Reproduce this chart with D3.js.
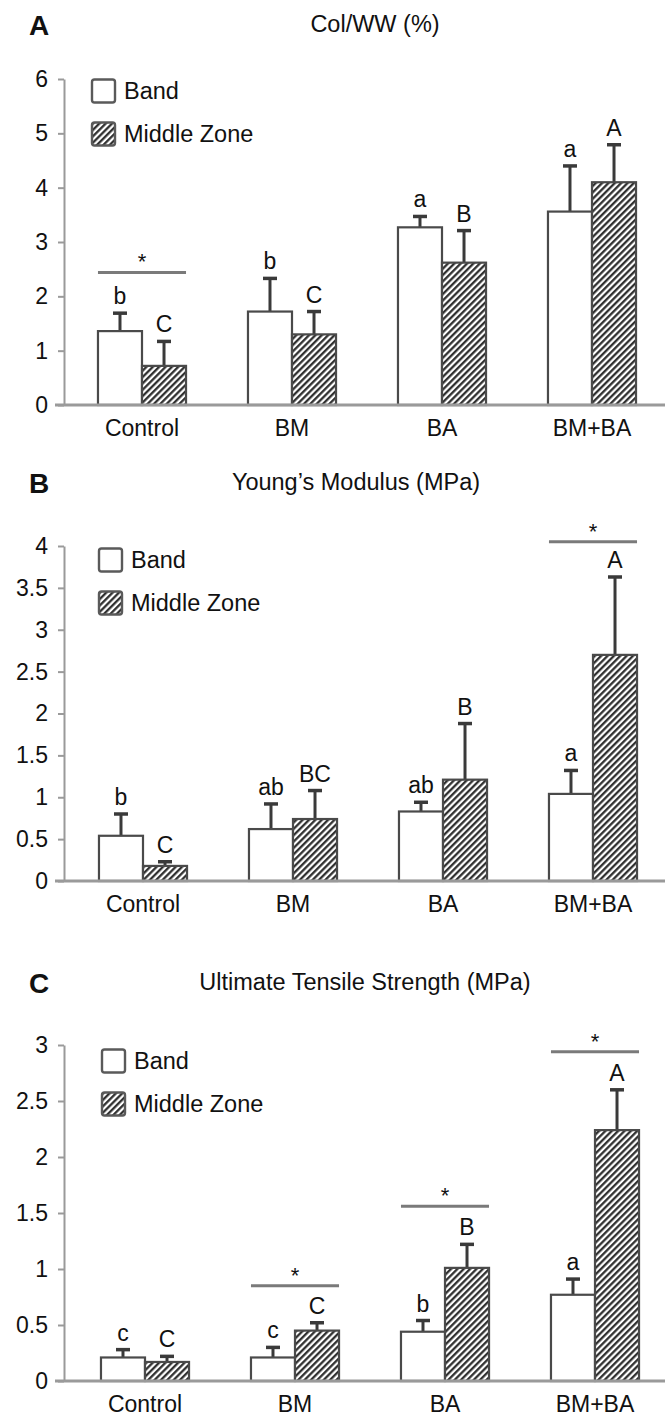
<!DOCTYPE html>
<html><head><meta charset="utf-8">
<script src="https://cdn.jsdelivr.net/npm/d3@7"></script>
<style>
html,body{margin:0;padding:0;background:#fff;}
svg text{font-family:"Liberation Sans",Arial,sans-serif;fill:#111;}
</style></head>
<body><svg id="chart" width="665" height="1416"></svg>
<script>
// ---- data ----
const categories = ["Control", "BM", "BA", "BM+BA"];
const seriesNames = ["Band", "Middle Zone"];

// Panel A: Col/WW (%)
const colBand = [1.36, 1.72, 3.27, 3.56];
const colBandSD = [0.33, 0.61, 0.20, 0.84];
const colMid = [0.72, 1.30, 2.62, 4.10];
const colMidSD = [0.45, 0.42, 0.59, 0.69];
const colBandLetters = ["b", "b", "a", "a"];
const colMidLetters = ["C", "C", "B", "A"];
const colStars = [{cat: "Control", y: 2.44}];
const colTicks = [0, 1, 2, 3, 4, 5, 6];

// Panel B: Young's Modulus (MPa)
const ymBand = [0.54, 0.62, 0.83, 1.04];
const ymBandSD = [0.26, 0.30, 0.11, 0.28];
const ymMid = [0.18, 0.74, 1.21, 2.70];
const ymMidSD = [0.05, 0.34, 0.67, 0.93];
const ymBandLetters = ["b", "ab", "ab", "a"];
const ymMidLetters = ["C", "BC", "B", "A"];
const ymStars = [{cat: "BM+BA", y: 4.05}];
const ymTicks = [0, 0.5, 1, 1.5, 2, 2.5, 3, 3.5, 4];

// Panel C: Ultimate Tensile Strength (MPa)
const utsBand = [0.21, 0.21, 0.44, 0.77];
const utsBandSD = [0.07, 0.09, 0.10, 0.14];
const utsMid = [0.17, 0.45, 1.01, 2.24];
const utsMidSD = [0.05, 0.07, 0.21, 0.36];
const utsBandLetters = ["c", "c", "b", "a"];
const utsMidLetters = ["C", "C", "B", "A"];
const utsStars = [{cat: "BM", y: 0.85}, {cat: "BA", y: 1.56}, {cat: "BM+BA", y: 2.94}];
const utsTicks = [0, 0.5, 1, 1.5, 2, 2.5, 3];

// ---- layout ----
const panels = [
  {tag: "A", title: "Col/WW (%)", titleX: 375, titleY: 24, base: 405, top: 79, max: 6, ticks: colTicks,
   band: colBand, bandSD: colBandSD, mid: colMid, midSD: colMidSD, bl: colBandLetters, ml: colMidLetters,
   stars: colStars, legY: 91, legX: 92, x0: 67},
  {tag: "B", title: "Young\u2019s Modulus (MPa)", titleX: 356, titleY: 482, base: 881, top: 546, max: 4, ticks: ymTicks,
   band: ymBand, bandSD: ymBandSD, mid: ymMid, midSD: ymMidSD, bl: ymBandLetters, ml: ymMidLetters,
   stars: ymStars, legY: 560, legX: 99, x0: 68},
  {tag: "C", title: "Ultimate Tensile Strength (MPa)", titleX: 365, titleY: 982, base: 1381, top: 1045, max: 3, ticks: utsTicks,
   band: utsBand, bandSD: utsBandSD, mid: utsMid, midSD: utsMidSD, bl: utsBandLetters, ml: utsMidLetters,
   stars: utsStars, legY: 1061, legX: 102, x0: 70}
];

const svg = d3.select("#chart");
const defs = svg.append("defs");
const pat = defs.append("pattern").attr("id", "hatch").attr("patternUnits", "userSpaceOnUse")
  .attr("width", 4.5).attr("height", 4.5).attr("patternTransform", "rotate(45)");
pat.append("rect").attr("width", 4.5).attr("height", 4.5).attr("fill", "#fff");
pat.append("line").attr("x1", 1.2).attr("y1", 0).attr("x2", 1.2).attr("y2", 4.5)
  .attr("stroke", "#262626").attr("stroke-width", 2.2);

const axisX = 64;

panels.forEach(p => {
  const g = svg.append("g");
  const y = d3.scaleLinear().domain([0, p.max]).range([p.base, p.top]);
  const x0 = d3.scaleBand().domain(categories).range([p.x0, p.x0 + 600]).paddingInner(0.413).paddingOuter(0.2065);
  const x1 = d3.scaleBand().domain(seriesNames).range([0, x0.bandwidth()]);

  // panel letter and title
  g.append("text").attr("x", 29).attr("y", p.titleY + 1).attr("dy", "0.36em")
    .attr("font-size", 28).attr("font-weight", "bold").text(p.tag);
  g.append("text").attr("x", p.titleX).attr("y", p.titleY).attr("dy", "0.36em")
    .attr("text-anchor", "middle").attr("font-size", 23.5).text(p.title);

  // y axis
  const ya = g.append("g").attr("transform", `translate(${axisX},0)`)
    .call(d3.axisLeft(y).tickValues(p.ticks).tickFormat(d3.format("")).tickSize(6).tickPadding(10).tickSizeOuter(0));
  ya.select(".domain").attr("stroke", "#9a9a9a").attr("stroke-width", 2);
  ya.selectAll(".tick line").attr("stroke", "#9a9a9a").attr("stroke-width", 2);
  ya.selectAll(".tick text").attr("font-size", 23).attr("font-family", "Liberation Sans, Arial, sans-serif").attr("fill", "#111");

  const rows = categories.map((c, i) => ({
    cat: c,
    vals: [
      {s: "Band", v: p.band[i], sd: p.bandSD[i], L: p.bl[i]},
      {s: "Middle Zone", v: p.mid[i], sd: p.midSD[i], L: p.ml[i]}
    ]
  }));

  const grp = g.selectAll(".grp").data(rows).join("g")
    .attr("transform", d => `translate(${x0(d.cat)},0)`);

  // error bars
  grp.selectAll(".err").data(d => d.vals).join("g").each(function(d) {
    const cx = x1(d.s) + x1.bandwidth() / 2;
    const e = d3.select(this);
    e.append("line").attr("x1", cx).attr("x2", cx).attr("y1", y(d.v)).attr("y2", y(d.v + d.sd))
      .attr("stroke", "#3a3a3a").attr("stroke-width", 3);
    e.append("line").attr("x1", cx - 7).attr("x2", cx + 7).attr("y1", y(d.v + d.sd)).attr("y2", y(d.v + d.sd))
      .attr("stroke", "#3a3a3a").attr("stroke-width", 3.5);
    e.append("text").attr("x", cx).attr("y", y(d.v + d.sd) - 9)
      .attr("text-anchor", "middle").attr("font-size", 23).text(d.L);
  });

  grp.selectAll(".bar").data(d => d.vals).join("rect")
    .attr("x", d => x1(d.s)).attr("width", x1.bandwidth())
    .attr("y", d => y(d.v)).attr("height", d => y(0) - y(d.v))
    .attr("fill", d => d.s === "Band" ? "#fff" : "url(#hatch)")
    .attr("stroke", "#4a4a4a").attr("stroke-width", 2.2);

  // x axis baseline
  g.append("line").attr("x1", 55).attr("x2", 665).attr("y1", y(0)).attr("y2", y(0))
    .attr("stroke", "#9a9a9a").attr("stroke-width", 3);

  // category labels
  g.selectAll(".cat").data(categories).join("text")
    .attr("x", d => x0(d) + x0.bandwidth() / 2).attr("y", p.base + 23).attr("dy", "0.36em")
    .attr("text-anchor", "middle").attr("font-size", 23).text(d => d);

  // significance stars
  p.stars.forEach(s => {
    const xs = x0(s.cat);
    g.append("line").attr("x1", xs).attr("x2", xs + x0.bandwidth()).attr("y1", y(s.y)).attr("y2", y(s.y))
      .attr("stroke", "#7a7a7a").attr("stroke-width", 3);
    g.append("text").attr("x", xs + x0.bandwidth() / 2).attr("y", y(s.y) - 3)
      .attr("text-anchor", "middle").attr("font-size", 22).text("*");
  });

  // legend
  const lg = g.append("g").attr("transform", `translate(${p.legX},${p.legY})`);
  seriesNames.forEach((s, i) => {
    const ly = i * 43;
    lg.append("rect").attr("x", 0).attr("y", ly - 11.5).attr("width", 23).attr("height", 23).attr("rx", 2.5)
      .attr("fill", s === "Band" ? "#fff" : "url(#hatch)").attr("stroke", "#5a5a5a").attr("stroke-width", 2.4);
    lg.append("text").attr("x", 32).attr("y", ly).attr("dy", "0.36em").attr("font-size", 23.5).text(s);
  });
});
</script>
</body></html>
